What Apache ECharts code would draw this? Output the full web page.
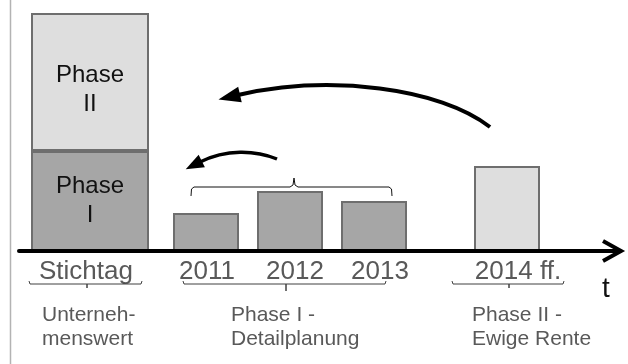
<!DOCTYPE html>
<html>
<head>
<meta charset="utf-8">
<script src="https://cdn.jsdelivr.net/npm/echarts@6/dist/echarts.min.js"></script>
<style>
  html, body { margin: 0; padding: 0; background: #fff; }
  #chart { width: 628px; height: 364px; }
</style>
</head>
<body>
<div id="chart"></div>
<script>
// Kategorien
const stichtagCats = ["Stichtag"];
const detailCats = ["2011", "2012", "2013"];
const renteCats = ["2014 ff."];

// Werte (schematisch)
const phaseIValues = [100];
const phaseIIValues = [138];
const detailValues = [38, 60, 50];
const renteValues = [85];
const yMax = 238;

const FONT = "'Liberation Sans', Arial, sans-serif";
const dark = "#a6a6a6";
const light = "#dedede";
const border = "#6e6e6e";

let chart = echarts.init(document.getElementById("chart"));

// Pfeilspitze aus Endpunkt + Richtung
function arrowHead(end, dir, len, half) {
  const l = Math.hypot(dir[0], dir[1]);
  const ux = dir[0] / l, uy = dir[1] / l;
  const tip = [end[0] + ux * len, end[1] + uy * len];
  const back = [end[0] - ux * 2, end[1] - uy * 2];
  return {
    type: "polygon",
    shape: { points: [tip, [back[0] - uy * half, back[1] + ux * half], [back[0] + uy * half, back[1] - ux * half]] },
    style: { fill: "#000" },
    z: 20
  };
}

// Klammer unter den Achsenbeschriftungen
function underBrace(x1, x2, xm, y, tipY) {
  return {
    type: "polyline",
    shape: { points: [[x1, y - 3], [x1 + 1, y], [xm, y], [xm, tipY], [xm, y], [x2 - 1, y], [x2, y - 3]] },
    style: { stroke: "#404040", lineWidth: 1, fill: null },
    z: 20
  };
}

function bottomText(x, text) {
  return {
    type: "text",
    x: x,
    y: 303,
    style: { text: text, font: "21px " + FONT, fill: "#595959", lineHeight: 24, verticalAlign: "top" },
    z: 20
  };
}

// Beschriftung leicht versetzt wie im Original (Pixel nach rechts)
const catAxis = (gridIndex, names, shifts) => ({
  type: "category",
  gridIndex: gridIndex,
  data: names.map((n, i) => {
    const s = shifts[i] || 0;
    return { value: n, textStyle: { padding: s >= 0 ? [0, 0, 0, 2 * s] : [0, -2 * s, 0, 0] } };
  }),
  axisLine: { show: false },
  axisTick: { show: false },
  splitLine: { show: false },
  axisLabel: { fontSize: 26, fontFamily: FONT, color: "#595959", margin: 8, interval: 0 }
});
const valAxis = (gridIndex) => ({ type: "value", gridIndex: gridIndex, min: 0, max: yMax, show: false });

const barStyle = (c) => ({ color: c, borderColor: border, borderWidth: 2 });
const phaseLabel = (txt, dy) => ({
  show: true, position: "inside", offset: [0, dy], formatter: txt,
  fontSize: 24, lineHeight: 29, fontFamily: FONT, color: "#111"
});

let option = {
  animation: false,
  grid: [
    { left: 31, width: 118, top: 13, bottom: 113 },
    { left: 164, width: 252, top: 13, bottom: 113 },
    { left: 474, width: 66, top: 13, bottom: 113 },
    { left: 19, right: 8, top: 13, bottom: 113 }
  ],
  xAxis: [
    catAxis(0, stichtagCats, [-4]),
    catAxis(1, detailCats, [1, 5, 6]),
    catAxis(2, renteCats, [11]),
    {
      type: "value", gridIndex: 3, min: 0, max: 1, z: 10,
      axisLine: { show: true, lineStyle: { color: "#000", width: 4 } },
      axisTick: { show: false }, axisLabel: { show: false }, splitLine: { show: false }
    }
  ],
  yAxis: [valAxis(0), valAxis(1), valAxis(2), valAxis(3)],
  series: [
    {
      type: "bar", xAxisIndex: 0, yAxisIndex: 0, stack: "uw", barWidth: "100%",
      data: phaseIValues, itemStyle: barStyle(dark), label: phaseLabel("Phase\nI", 0)
    },
    {
      type: "bar", xAxisIndex: 0, yAxisIndex: 0, stack: "uw", barWidth: "100%",
      data: phaseIIValues, itemStyle: barStyle(light), label: phaseLabel("Phase\nII", 8)
    },
    {
      type: "bar", xAxisIndex: 1, yAxisIndex: 1, barWidth: 66,
      data: detailValues, itemStyle: barStyle(dark)
    },
    {
      type: "bar", xAxisIndex: 2, yAxisIndex: 2, barWidth: "100%",
      data: renteValues, itemStyle: barStyle(light)
    }
  ],
  graphic: [
    // linke Begrenzungslinie
    { type: "line", shape: { x1: 10.5, y1: 0, x2: 10.5, y2: 364 }, style: { stroke: "#b3b3b3", lineWidth: 1.5 } },
    // Pfeil der Zeitachse
    { type: "polyline", shape: { points: [[603, 241], [621, 251], [603, 261]] }, style: { stroke: "#000", lineWidth: 4, fill: null }, z: 20 },
    { type: "text", x: 602, y: 275, style: { text: "t", font: "28px " + FONT, fill: "#111", verticalAlign: "top" }, z: 20 },
    // grosser Bogenpfeil (Phase II -> Stichtag)
    { type: "bezierCurve", shape: { x1: 490, y1: 127, cpx1: 440, cpy1: 88, cpx2: 330, cpy2: 74, x2: 238, y2: 95 }, style: { stroke: "#000", lineWidth: 4, fill: null }, z: 20 },
    arrowHead([238, 95], [-92, 21], 20, 8),
    // kleiner Bogenpfeil (Phase I -> Stichtag)
    { type: "bezierCurve", shape: { x1: 277, y1: 159, cpx1: 255, cpy1: 150, cpx2: 226, cpy2: 149, x2: 200, y2: 162 }, style: { stroke: "#000", lineWidth: 3.5, fill: null }, z: 20 },
    arrowHead([200, 162], [-26, 13], 16, 7),
    // geschweifte Klammer ueber 2011-2013
    {
      type: "polyline",
      shape: { points: [[191, 196], [191.5, 189], [194, 187], [290, 187], [293, 185], [294, 178], [295, 185], [298, 187], [389, 187], [391.5, 189], [392, 196]] },
      style: { stroke: "#111", lineWidth: 1, fill: null }, z: 20
    },
    // Klammern unter den Beschriftungen
    underBrace(29, 142, 87, 284, 288),
    underBrace(183, 386, 286, 284, 291),
    underBrace(452, 564, 509, 284, 288),
    bottomText(42, "Unterneh-\nmenswert"),
    bottomText(231, "Phase I -\nDetailplanung"),
    bottomText(472, "Phase II -\nEwige Rente")
  ]
};

chart.setOption(option);
</script>
</body>
</html>
